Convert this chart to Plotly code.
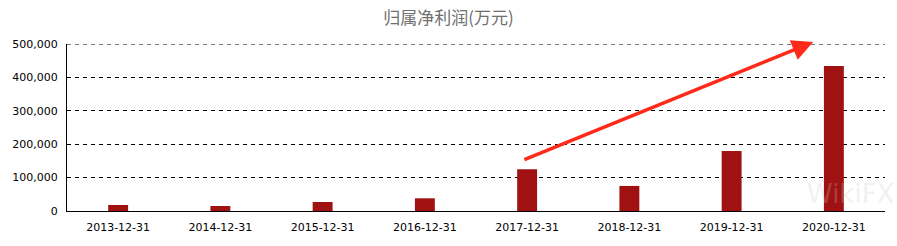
import plotly.graph_objects as go

categories = ["2013-12-31", "2014-12-31", "2015-12-31", "2016-12-31",
              "2017-12-31", "2018-12-31", "2019-12-31", "2020-12-31"]
values = [18000, 15000, 27000, 38000, 125000, 75000, 180000, 434000]
y_ticks = [0, 100000, 200000, 300000, 400000, 500000]
y_tick_labels = ["0", "100,000", "200,000", "300,000", "400,000", "500,000"]
title = "归属净利润(万元)"

fig = go.Figure()
fig.add_trace(go.Bar(x=categories, y=values, marker=dict(color="#A01212", line=dict(width=0)),
                     width=0.195))

fig.update_layout(
    width=897, height=246,
    margin=dict(l=65, r=12, t=44, b=34),
    paper_bgcolor="white", plot_bgcolor="white",
    showlegend=False,
    title=dict(text=title, x=0.5, xanchor="center", y=0.925, yanchor="middle",
               font=dict(family="Noto Sans CJK SC", size=17, color="#707070")),
    font=dict(family="DejaVu Sans", size=11, color="black"),
)
fig.update_xaxes(type="category", showline=True, linecolor="black", linewidth=1,
                 showgrid=False, ticks="", ticklabelstandoff=6,
                 tickfont=dict(size=11, color="black"))
fig.update_yaxes(range=[0, y_ticks[-1]], tickvals=y_ticks, ticktext=y_tick_labels,
                 showline=True, linecolor="black", linewidth=1,
                 showgrid=True, gridcolor="black", gridwidth=1, griddash="4px,4px",
                 zeroline=False, ticks="", ticklen=0, ticklabelstandoff=6,
                 tickfont=dict(size=11, color="black"))

# top gridline at the last tick (plotly skips gridlines on the range edge)
fig.add_hline(y=y_ticks[-1], line=dict(color="black", width=1, dash="4px,4px"), layer="below")

# decorative red arrow overlay
fig.add_annotation(xref="x domain", yref="y domain", x=(813 - 65) / 820, y=(212 - 42) / 168,
                   ax=(522 - 65) / 820, ay=(212 - 161) / 168,
                   axref="x domain", ayref="y domain",
                   text="", showarrow=True, arrowhead=2, arrowsize=1.2, arrowwidth=3.5,
                   arrowcolor="#FF2A1A")
# faint watermark
fig.add_annotation(xref="paper", yref="paper", x=(850 - 65) / 820, y=0,
                   text="WikiFX", showarrow=False, xanchor="center", yanchor="bottom",
                   font=dict(family="DejaVu Sans", size=26, color="rgba(200,200,200,0.25)"))

fig.write_html("out.html")
